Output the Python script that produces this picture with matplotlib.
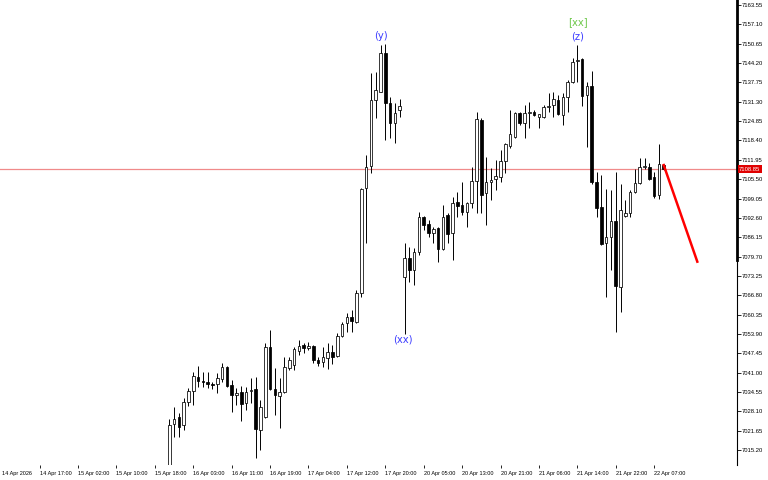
import numpy as np
import matplotlib
matplotlib.use("Agg")
import matplotlib.pyplot as plt
import matplotlib.transforms as mtransforms

plt.rcParams['font.family'] = ['Liberation Sans', 'DejaVu Sans']

# --- DATA (H1 bars) ---
opens = [7005.0, 7023.8, 7026.1, 7023.5, 7031.3, 7035.0, 7039.7, 7038.3, 7037.9, 7037.2,
         7037.2, 7038.8, 7043.0, 7036.9, 7033.4, 7034.6, 7030.8, 7035.0, 7035.4, 7021.9,
         7026.3, 7049.7, 7035.6, 7033.3, 7034.6, 7042.4, 7043.6, 7048.3, 7050.2, 7049.1,
         7049.9, 7045.2, 7044.4, 7046.0, 7048.0, 7046.5, 7053.2, 7057.4, 7059.7, 7058.0,
         7067.4, 7102.4, 7109.9, 7131.9, 7134.7, 7147.4, 7131.0, 7124.1, 7128.6, 7073.0,
         7079.1, 7075.2, 7081.3, 7093.0, 7090.4, 7087.4, 7089.1, 7082.2, 7093.5, 7087.7,
         7097.8, 7096.9, 7094.7, 7097.7, 7104.9, 7125.2, 7101.0, 7104.7, 7105.4, 7106.3,
         7111.7, 7116.5, 7119.7, 7127.4, 7124.1, 7127.6, 7128.0, 7126.1, 7126.1, 7129.7,
         7130.2, 7131.9, 7126.9, 7132.8, 7138.0, 7144.8, 7145.5, 7133.7, 7136.5, 7104.5,
         7096.1, 7084.1, 7086.3, 7091.6, 7069.6, 7093.3, 7094.1, 7101.1, 7104.2, 7109.4,
         7109.4, 7106.1, 7100.2, 7110.2]
highs = [7025.4, 7029.7, 7027.7, 7032.4, 7035.8, 7041.3, 7043.2, 7041.3, 7041.3, 7038.0,
         7040.8, 7044.1, 7043.2, 7038.6, 7035.8, 7036.6, 7036.3, 7039.1, 7039.7, 7031.9,
         7050.8, 7055.2, 7042.4, 7039.1, 7046.3, 7046.3, 7049.5, 7051.9, 7051.0, 7051.3,
         7050.2, 7046.3, 7049.7, 7050.8, 7050.2, 7054.1, 7058.0, 7060.8, 7061.9, 7068.6,
         7102.4, 7113.6, 7140.8, 7141.1, 7150.2, 7150.5, 7133.0, 7131.0, 7132.1, 7084.1,
         7083.0, 7082.4, 7094.7, 7093.2, 7091.9, 7089.7, 7089.4, 7096.9, 7094.1, 7099.7,
         7101.3, 7104.7, 7098.0, 7109.7, 7128.0, 7125.8, 7113.0, 7109.1, 7111.9, 7115.2,
         7117.4, 7128.6, 7128.0, 7128.0, 7130.2, 7131.3, 7128.5, 7127.3, 7130.2, 7134.1,
         7134.7, 7133.5, 7134.1, 7138.6, 7145.8, 7150.2, 7145.8, 7138.0, 7141.5, 7108.0,
         7106.9, 7102.2, 7102.0, 7108.0, 7104.0, 7098.5, 7101.9, 7109.0, 7112.4, 7112.4,
         7111.0, 7108.0, 7117.2, 7110.4]
lows = [7002.0, 7019.7, 7019.7, 7021.9, 7029.9, 7030.2, 7036.3, 7036.3, 7035.8, 7035.4,
        7034.1, 7038.0, 7036.3, 7028.0, 7030.2, 7025.0, 7028.6, 7030.8, 7012.4, 7015.2,
        7026.0, 7035.2, 7026.9, 7022.4, 7034.1, 7041.9, 7041.9, 7046.9, 7047.4, 7048.5,
        7044.1, 7043.2, 7043.0, 7042.1, 7044.0, 7046.3, 7053.0, 7054.7, 7054.7, 7057.4,
        7066.3, 7084.2, 7107.7, 7125.8, 7134.5, 7118.5, 7119.1, 7117.7, 7126.3, 7054.0,
        7071.3, 7070.2, 7080.2, 7088.5, 7086.3, 7084.1, 7078.0, 7081.9, 7084.1, 7078.5,
        7093.0, 7093.5, 7089.7, 7095.8, 7094.1, 7094.1, 7090.2, 7098.5, 7101.9, 7104.7,
        7107.4, 7115.8, 7119.1, 7123.6, 7119.1, 7122.4, 7126.6, 7122.4, 7125.8, 7128.0,
        7126.3, 7126.9, 7123.5, 7128.0, 7137.4, 7138.0, 7130.0, 7116.3, 7104.0, 7093.0,
        7083.6, 7066.3, 7075.2, 7054.7, 7061.3, 7092.8, 7092.8, 7100.8, 7103.9, 7109.0,
        7105.3, 7099.1, 7098.8, 7108.6]
closes = [7023.5, 7025.4, 7023.0, 7031.1, 7034.8, 7039.9, 7038.3, 7037.9, 7037.2, 7037.0,
          7039.1, 7043.0, 7036.6, 7033.5, 7034.3, 7030.6, 7034.6, 7035.2, 7022.1, 7029.7,
          7049.7, 7035.4, 7033.5, 7034.6, 7043.0, 7045.2, 7048.8, 7049.9, 7049.1, 7049.9,
          7045.2, 7044.3, 7046.1, 7048.0, 7046.3, 7053.2, 7057.1, 7059.7, 7058.3, 7067.7,
          7102.1, 7109.7, 7131.9, 7135.2, 7147.4, 7131.0, 7124.1, 7127.4, 7129.9, 7079.1,
          7075.2, 7081.3, 7092.8, 7090.2, 7087.4, 7088.9, 7082.2, 7093.0, 7087.2, 7097.7,
          7096.7, 7094.7, 7097.7, 7104.9, 7125.6, 7100.2, 7104.7, 7105.2, 7106.5, 7111.7,
          7117.1, 7120.4, 7127.4, 7124.3, 7127.6, 7127.8, 7126.9, 7127.2, 7129.7, 7129.9,
          7132.1, 7127.2, 7133.0, 7138.0, 7144.7, 7145.1, 7133.2, 7136.4, 7104.5, 7095.8,
          7084.0, 7086.1, 7091.5, 7069.9, 7095.2, 7094.1, 7101.1, 7104.3, 7109.6, 7109.6,
          7105.6, 7099.9, 7110.5, 7108.85]

time_labels = ["14 Apr 17:00", "15 Apr 02:00", "15 Apr 10:00", "15 Apr 18:00", "16 Apr 03:00",
               "16 Apr 11:00", "16 Apr 19:00", "17 Apr 04:00", "17 Apr 12:00", "17 Apr 20:00",
               "20 Apr 05:00", "20 Apr 13:00", "20 Apr 21:00", "21 Apr 06:00", "21 Apr 14:00",
               "21 Apr 22:00", "22 Apr 07:00"]
time_label_bars = [-27, -19, -11, -3, 5, 13, 21, 29, 37, 45, 53, 61, 69, 77, 85, 93, 101]

price_ticks = [7015.20, 7021.65, 7028.10, 7034.55, 7041.00, 7047.45, 7053.90, 7060.35,
               7066.80, 7073.25, 7079.70, 7086.15, 7092.60, 7099.05, 7105.50, 7111.95,
               7118.40, 7124.85, 7131.30, 7137.75, 7144.20, 7150.65, 7157.10, 7163.55]
last_price = 7108.85

# projection line (bar index, price)
proj_x = [103, 110]
proj_y = [7110.2, 7078.0]

# wave labels: (text, bar index, price, colour)
wave_labels = [("(y)", 44.1, 7153.2, "#3c3cff"),
               ("(xx)", 48.6, 7052.2, "#3c3cff"),
               ("[xx]", 85.1, 7157.9, "#6ec84a"),
               ("(z)", 85.1, 7153.2, "#3c3cff")]

# --- FIGURE ---
fig = plt.figure(figsize=(7.68, 4.8), dpi=100)
ax = fig.add_axes([0, 15 / 480, 737 / 768, 465 / 480])
ax.set_xlim(-35.27, 118.27)
ax.set_ylim(7010.22, 7165.22)

idx = np.arange(len(opens))
o = np.array(opens)
c = np.array(closes)
up = c >= o

ax.axhline(last_price, color="#f08a8a", lw=0.9, zorder=1)

ax.vlines(idx, lows, highs, color="black", lw=0.7, zorder=2)
heights = np.maximum(np.abs(c - o), 0.35)
bottoms = np.minimum(o, c)
ax.bar(idx, heights, bottom=bottoms, width=0.56,
       color=np.where(up, "white", "black"), edgecolor="black", linewidth=0.55, zorder=3)

ax.plot(proj_x, proj_y, color="#ff0000", lw=1.8, zorder=4)

for txt, xb, yp, col in wave_labels:
    ax.text(xb, yp, txt, color=col, fontsize=7.2, ha="center", va="center",
            family="DejaVu Sans", zorder=5)

# axes styling
for s in ["top", "left", "bottom"]:
    ax.spines[s].set_visible(False)
ax.spines["right"].set_linewidth(0.8)
ax.plot([1, 1], [1 - 260 / 465, 1], transform=ax.transAxes, color="black",
        lw=2.0, clip_on=False, zorder=6)

ax.yaxis.tick_right()
ax.set_yticks(price_ticks)
ax.set_yticklabels([f"{p:.2f}" for p in price_ticks])
ax.tick_params(axis="y", length=3, width=0.6, labelsize=4.2, pad=0.5)

ax.set_xticks(time_label_bars)
ax.set_xticklabels(time_labels)
ax.tick_params(axis="x", length=2.5, width=0.6, labelsize=4.0, pad=2)
for lbl in ax.get_xticklabels():
    lbl.set_ha("left")
ax.text(0.003, -0.013, "14 Apr 2026", transform=ax.transAxes, fontsize=4.0,
        ha="left", va="top")

# current price tag
trans = mtransforms.blended_transform_factory(ax.transAxes, ax.transData)
ax.text(1.003, last_price, f"{last_price:.2f}", transform=trans, fontsize=4.2,
        color="white", ha="left", va="center", zorder=7,
        bbox=dict(boxstyle="square,pad=0.2", fc="#e00000", ec="none"))

fig.savefig("out.png", dpi=100)
